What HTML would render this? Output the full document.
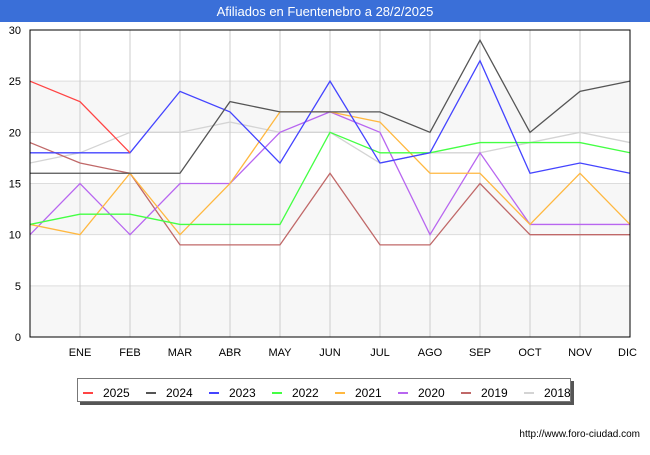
<!DOCTYPE html>
<html><head><meta charset="utf-8"><style>
body{margin:0;width:650px;height:450px;background:#fff;font-family:"Liberation Sans",sans-serif;overflow:hidden}
</style></head><body>
<svg width="650" height="450" xmlns="http://www.w3.org/2000/svg">
<rect x="0" y="0" width="650" height="22" fill="#3a6fd8"/>
<text x="325" y="16" font-size="13" fill="#fff" text-anchor="middle">Afiliados en Fuentenebro a 28/2/2025</text>
<g id="bands"></g><g id="grid"></g><g id="axes"></g><g id="series"></g>
<rect x="30" y="30" width="600" height="307" fill="none" stroke="#000"/>
<g id="legend"></g>
<text x="640" y="437" font-size="10" fill="#000" text-anchor="end">http://www.foro-ciudad.com</text>
</svg>
<script>
const months=["","ENE","FEB","MAR","ABR","MAY","JUN","JUL","AGO","SEP","OCT","NOV","DIC"];
const yTicks=[0,5,10,15,20,25,30];
const years=["2025","2024","2023","2022","2021","2020","2019","2018"];
const colors=["#ff4444","#555555","#4444ff","#44ff44","#ffb840","#b866f0","#c06868","#d4d4d4"];
const s2025=[25,23,18];
const s2024=[16,16,16,16,23,22,22,22,20,29,20,24,25];
const s2023=[18,18,18,24,22,17,25,17,18,27,16,17,16];
const s2022=[11,12,12,11,11,11,20,18,18,19,19,19,18];
const s2021=[11,10,16,10,15,22,22,21,16,16,11,16,11];
const s2020=[10,15,10,15,15,20,22,20,10,18,11,11,11];
const s2019=[19,17,16,9,9,9,16,9,9,15,10,10,10];
const s2018=[17,18,20,20,21,20,20,17,18,18,19,20,19];
const seriesList=[s2025,s2024,s2023,s2022,s2021,s2020,s2019,s2018];
const NS="http://www.w3.org/2000/svg";
const X=i=>30+i*50, Y=v=>337-v*(307/30);
function mk(p,t,a){const e=document.createElementNS(NS,t);for(const k in a)e.setAttribute(k,a[k]);document.getElementById(p).appendChild(e);return e;}
for(let i=0;i<yTicks.length-1;i++){if(i%2==0){const b=mk('bands','rect',{x:30,y:Y(yTicks[i+1]),width:600,height:Y(yTicks[i])-Y(yTicks[i+1]),fill:'#f7f7f7'});

}}
yTicks.forEach(v=>{const l=mk('grid','line',{x1:30,x2:630,y1:Y(v),y2:Y(v),stroke:'#dddddd'});


const t=mk('axes','text',{x:21,y:Y(v)+4,'font-size':11,'text-anchor':'end'});t.textContent=v;

});
months.forEach((m,i)=>{if(i>0){const l=mk('grid','line',{x1:X(i),x2:X(i),y1:30,y2:337,stroke:'#cccccc'});

}
const t=mk('axes','text',{x:X(i),y:356,'font-size':11,'text-anchor':i==12?'end':'middle'});if(i==12)t.setAttribute('x',637);t.textContent=m;

});
for(let k=seriesList.length-1;k>=0;k--){const d=seriesList[k].map((v,i)=>X(i)+','+Y(v)).join(' ');
const p=mk('series','polyline',{points:d,fill:'none',stroke:colors[k],'stroke-width':1.3});

}
const sh=mk('legend','rect',{x:80,y:381,width:494,height:24,fill:'#555'});


const lb=mk('legend','rect',{x:77.5,y:378.5,width:493,height:23,fill:'#fff',stroke:'#777'});


years.forEach((y,k)=>{const x0=83+k*63;
const l=mk('legend','line',{x1:x0,x2:x0+10,y1:393,y2:393,stroke:colors[k],'stroke-width':2});


const t=mk('legend','text',{x:x0+20,y:397,'font-size':12});t.textContent=y;

});
</script>
</body></html>
